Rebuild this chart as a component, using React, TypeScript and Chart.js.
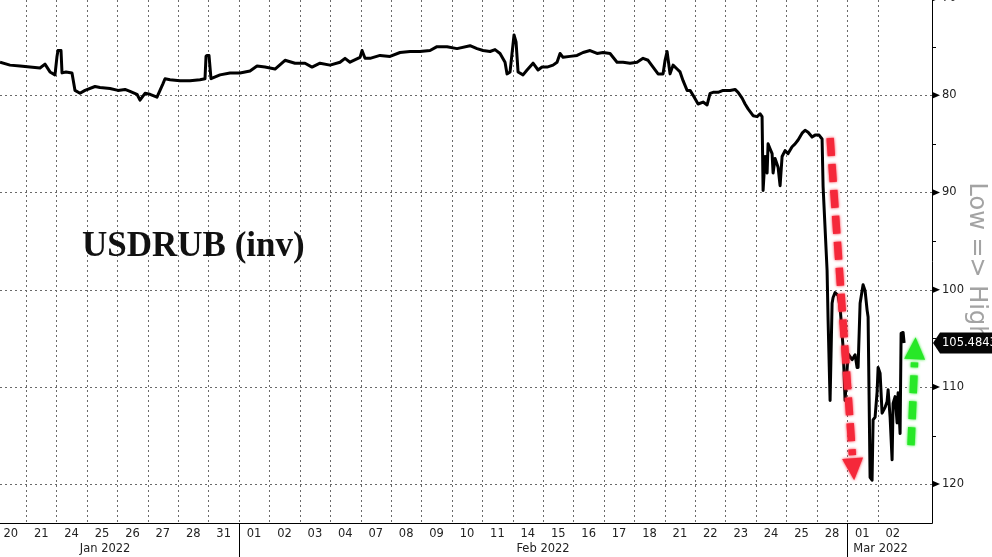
import React, { useEffect, useRef } from 'react';
import { Chart, registerables } from 'chart.js';
Chart.register(...registerables);

// Trading-day slot labels (each slot is one unit on the x scale, slot k spans [k, k+1])
const dayLabels = ['20', '21', '24', '25', '26', '27', '28', '31',
  '01', '02', '03', '04', '07', '08', '09', '10', '11', '14', '15', '16', '17', '18', '21', '22', '23', '24', '25', '28',
  '01', '02'];
const monthLabels = ['Jan 2022', 'Feb 2022', 'Mar 2022'];
const monthLabelAt = [3.6, 18, 29.1];
const monthStarts = [8, 28];
const yMajor = [70, 80, 90, 100, 110, 120];
const yMinor = [75, 85, 95, 105, 115];

// time in trading-day units, USDRUB value
const times = [
  0.145, 0.474, 0.802, 1.131, 1.460, 1.624, 1.789, 1.953, 2.019, 2.052, 2.151, 2.184, 2.315, 2.512, 2.611, 2.775, 2.940,
  3.269, 3.433, 3.762, 4.025, 4.255, 4.420, 4.650, 4.748, 4.913, 5.077, 5.307, 5.505, 5.571, 5.735, 6.064, 6.393,
  6.721, 6.886, 6.919, 6.952, 7.017, 7.083, 7.379, 7.708, 8.037, 8.366, 8.596, 8.859, 9.188, 9.517, 9.846, 10.174,
  10.404, 10.668, 10.996, 11.325, 11.490, 11.654, 11.983, 12.049, 12.147, 12.312, 12.641, 12.970, 13.298, 13.627,
  13.956, 14.285, 14.515, 14.844, 15.173, 15.600, 15.830, 16.028, 16.258, 16.422, 16.587, 16.751, 16.817, 16.916,
  16.981, 17.047, 17.113, 17.179, 17.343, 17.475, 17.672, 17.837, 17.968, 18.133, 18.330, 18.461, 18.560, 18.659,
  18.889, 19.119, 19.316, 19.546, 19.777, 19.974, 20.204, 20.434, 20.632, 20.862, 21.092, 21.289, 21.454, 21.618,
  21.783, 21.947, 22.013, 22.079, 22.177, 22.276, 22.408, 22.506, 22.605, 22.737, 22.835, 22.934, 23.099, 23.263,
  23.395, 23.493, 23.592, 23.756, 23.921, 24.151, 24.315, 24.414, 24.546, 24.644, 24.743, 24.907, 25.039, 25.138,
  25.203, 25.236, 25.302, 25.368, 25.400, 25.466, 25.532, 25.565, 25.630, 25.729, 25.795, 25.861, 25.959, 26.058,
  26.190, 26.288, 26.387, 26.518, 26.617, 26.716, 26.847, 26.946, 27.077, 27.176, 27.209, 27.340, 27.373, 27.439,
  27.505, 27.538, 27.603, 27.702, 27.768, 27.834, 27.867, 27.932, 28.031, 28.163, 28.261, 28.327, 28.360, 28.426,
  28.492, 28.524, 28.590, 28.656, 28.689, 28.754, 28.820, 28.853, 28.919, 28.985, 29.018, 29.083, 29.149, 29.248,
  29.314, 29.347, 29.412, 29.478, 29.511, 29.577, 29.643, 29.676, 29.741, 29.774, 29.840, 29.873,
];
const usdrub = [
  76.6, 76.9, 77.0, 77.1, 77.2, 76.8, 77.6, 77.9, 76.0, 75.4, 75.4, 77.7, 77.6, 77.7, 79.5, 79.8, 79.5,
  79.1, 79.2, 79.3, 79.5, 79.4, 79.6, 79.9, 80.5, 79.8, 79.9, 80.2, 78.8, 78.3, 78.4, 78.5, 78.5,
  78.4, 78.3, 76.0, 75.9, 75.9, 78.3, 77.9, 77.7, 77.7, 77.5, 77.0, 77.1, 77.3, 76.4, 76.7, 76.7,
  77.1, 76.7, 76.9, 76.6, 76.2, 76.6, 76.1, 75.4, 76.2, 76.2, 75.9, 76.0, 75.6, 75.5,
  75.5, 75.4, 75.0, 75.0, 75.2, 74.9, 75.2, 75.4, 75.5, 75.3, 75.7, 76.6, 77.8, 77.6,
  75.7, 73.8, 74.5, 77.6, 77.9, 77.4, 76.7, 77.4, 77.1, 77.1, 76.9, 76.6, 75.7, 76.1,
  76.0, 75.9, 75.6, 75.4, 75.7, 75.6, 75.7, 76.6, 76.6, 76.7, 76.6, 76.2, 76.4, 77.1,
  77.8, 77.8, 76.4, 75.5, 77.8, 76.9, 77.3, 77.6, 78.5, 79.5, 79.5, 80.0, 80.9, 80.7,
  81.0, 79.8, 79.7, 79.7, 79.5, 79.5, 79.4, 79.7, 80.3, 80.9, 81.4, 82.1, 82.2, 81.9,
  82.2, 89.8, 86.3, 88.0, 85.0, 85.5, 86.0, 88.0, 86.5, 87.4, 89.3, 86.3, 85.7, 86.0,
  85.3, 85.0, 84.6, 83.9, 83.6, 83.8, 84.3, 84.1, 84.1, 84.5, 89.4, 98.0, 103.1, 111.4,
  101.4, 100.8, 100.3, 100.6, 101.8, 104.5, 106.0, 111.4, 106.6, 107.2, 106.7, 108.0, 108.0, 101.4,
  100.1, 99.5, 100.1, 102.1, 102.8, 119.3, 119.6, 113.4, 113.1, 110.5, 108.0, 108.6, 112.7, 112.1,
  111.5, 110.3, 113.1, 117.5, 111.7, 111.0, 113.7, 110.6, 114.8, 104.5, 104.4, 105.4843,
];
const lastValue = 105.4843;

// annotation arrows: [start, tip] in (day, value)
const redArrowT = [27.44, 28.23];
const redArrowV = [84.4, 119.6];
const greenArrowT = [30.10, 30.25];
const greenArrowV = [116.0, 104.9];

const TICK_FONT = '11.5px "DejaVu Sans"';

function drawArrow(ctx: CanvasRenderingContext2D, x0: number, y0: number, x1: number, y1: number, color: string) {
  const dx = x1 - x0, dy = y1 - y0;
  const len = Math.hypot(dx, dy);
  const ux = dx / len, uy = dy / len;
  const head = 22, half = 10.5;
  const bx = x1 - ux * head, by = y1 - uy * head;
  ctx.save();
  ctx.shadowColor = color;
  ctx.shadowBlur = 3;
  ctx.strokeStyle = color;
  ctx.fillStyle = color;
  ctx.lineWidth = 7.5;
  ctx.lineCap = 'butt';
  ctx.setLineDash([18, 8]);
  ctx.beginPath();
  ctx.moveTo(x0, y0);
  ctx.lineTo(bx - ux * 3, by - uy * 3);
  ctx.stroke();
  ctx.setLineDash([]);
  ctx.beginPath();
  ctx.moveTo(x1, y1);
  ctx.lineTo(bx - uy * half, by + ux * half);
  ctx.lineTo(bx + uy * half, by - ux * half);
  ctx.closePath();
  ctx.fill();
  ctx.restore();
}

const decor = {
  id: 'decor',
  beforeDatasetsDraw(chart: any) {
    const { ctx, chartArea: a, scales } = chart;
    const x = scales.x, y = scales.y;
    ctx.save();
    ctx.strokeStyle = '#6a6a6a';
    ctx.lineWidth = 1;
    ctx.setLineDash([2, 3]);
    for (let k = 1; k < dayLabels.length; k++) {
      const px = Math.round(x.getPixelForValue(k)) + 0.5;
      ctx.beginPath();
      ctx.moveTo(px, a.top);
      ctx.lineTo(px, a.bottom);
      ctx.stroke();
    }
    for (const v of yMajor) {
      const py = Math.round(y.getPixelForValue(v)) + 0.5;
      if (py < a.top || py > a.bottom) continue;
      ctx.beginPath();
      ctx.moveTo(a.left, py);
      ctx.lineTo(a.right, py);
      ctx.stroke();
    }
    ctx.setLineDash([]);
    // title
    ctx.fillStyle = '#111';
    ctx.font = 'bold 35px "Liberation Serif"';
    ctx.textBaseline = 'alphabetic';
    ctx.textAlign = 'left';
    ctx.fillText('USDRUB (inv)', 82, 256);
    ctx.restore();
  },
  afterDatasetsDraw(chart: any) {
    const { ctx, scales } = chart;
    const x = scales.x, y = scales.y;
    drawArrow(ctx, x.getPixelForValue(redArrowT[0]), y.getPixelForValue(redArrowV[0]),
      x.getPixelForValue(redArrowT[1]), y.getPixelForValue(redArrowV[1]), '#f5283a');
    drawArrow(ctx, x.getPixelForValue(greenArrowT[0]), y.getPixelForValue(greenArrowV[0]),
      x.getPixelForValue(greenArrowT[1]), y.getPixelForValue(greenArrowV[1]), '#27e827');
  },
  afterDraw(chart: any) {
    const { ctx, chartArea: a, scales, width, height } = chart;
    const x = scales.x, y = scales.y;
    ctx.save();
    // axis lines
    ctx.strokeStyle = '#000';
    ctx.lineWidth = 1;
    ctx.beginPath();
    ctx.moveTo(0, a.bottom + 0.5);
    ctx.lineTo(a.right + 0.5, a.bottom + 0.5);
    ctx.moveTo(a.right + 0.5, 0);
    ctx.lineTo(a.right + 0.5, a.bottom + 0.5);
    ctx.stroke();
    // month separators
    ctx.beginPath();
    for (const m of monthStarts) {
      const px = Math.round(x.getPixelForValue(m)) + 0.5;
      ctx.moveTo(px, a.bottom);
      ctx.lineTo(px, height);
    }
    ctx.stroke();
    // x labels
    ctx.fillStyle = '#222';
    ctx.font = TICK_FONT;
    ctx.textAlign = 'center';
    ctx.textBaseline = 'middle';
    dayLabels.forEach((lab, k) => {
      ctx.fillText(lab, x.getPixelForValue(k + 0.5), a.bottom + 11);
    });
    monthLabels.forEach((lab, i) => {
      ctx.fillText(lab, x.getPixelForValue(monthLabelAt[i]), a.bottom + 26);
    });
    // y ticks
    ctx.fillStyle = '#000';
    for (const v of yMinor) {
      const py = Math.round(y.getPixelForValue(v)) + 0.5;
      ctx.beginPath();
      ctx.moveTo(a.right, py);
      ctx.lineTo(a.right + 4, py);
      ctx.stroke();
    }
    for (const v of yMajor) {
      const py = y.getPixelForValue(v);
      ctx.beginPath();
      ctx.moveTo(a.right, py - 3.5);
      ctx.lineTo(a.right + 8, py);
      ctx.lineTo(a.right, py + 3.5);
      ctx.closePath();
      ctx.fill();
    }
    ctx.fillStyle = '#222';
    ctx.textAlign = 'left';
    for (const v of yMajor) {
      ctx.fillText(String(v), a.right + 10, y.getPixelForValue(v));
    }
    // axis title
    ctx.save();
    ctx.translate(976, (a.top + a.bottom) / 2);
    ctx.rotate(Math.PI / 2);
    ctx.fillStyle = '#a3a3a3';
    ctx.font = '24px "DejaVu Sans"';
    ctx.textAlign = 'center';
    ctx.textBaseline = 'middle';
    ctx.fillText('Low => High', 0, 0);
    ctx.restore();
    // last value label
    const py = y.getPixelForValue(lastValue);
    ctx.fillStyle = '#050505';
    ctx.beginPath();
    ctx.moveTo(a.right + 1, py);
    ctx.lineTo(a.right + 8, py - 10.5);
    ctx.lineTo(width, py - 10.5);
    ctx.lineTo(width, py + 10.5);
    ctx.lineTo(a.right + 8, py + 10.5);
    ctx.closePath();
    ctx.fill();
    ctx.fillStyle = '#fff';
    ctx.font = TICK_FONT;
    ctx.textAlign = 'left';
    ctx.textBaseline = 'middle';
    ctx.fillText(lastValue.toFixed(4), a.right + 10, py);
    ctx.restore();
  },
};

export default function App() {
  const ref = useRef<HTMLCanvasElement | null>(null);
  useEffect(() => {
    document.body.style.margin = '0';
    const canvas = ref.current;
    if (!canvas) return;
    const chart = new Chart(canvas, {
      type: 'line',
      data: {
        datasets: [{
          data: times.map((t, i) => ({ x: t, y: usdrub[i] })),
          borderColor: '#000',
          borderWidth: 3,
          pointRadius: 0,
          tension: 0,
          borderJoinStyle: 'round',
          fill: false,
        }],
      },
      options: {
        animation: false,
        responsive: false,
        devicePixelRatio: 1,
        layout: { padding: { left: 0, top: 0, right: 60, bottom: 34 } },
        scales: {
          x: { type: 'linear', min: 0.145, max: 30.79, display: false },
          y: { type: 'linear', min: 70.2, max: 124, reverse: true, display: false },
        },
        plugins: { legend: { display: false }, tooltip: { enabled: false } },
      },
      plugins: [decor],
    } as any);
    return () => chart.destroy();
  }, []);
  return (
    <div style={{ width: 992, height: 557, background: '#fff' }}>
      <canvas ref={ref} width={992} height={557} style={{ display: 'block' }} />
    </div>
  );
}
